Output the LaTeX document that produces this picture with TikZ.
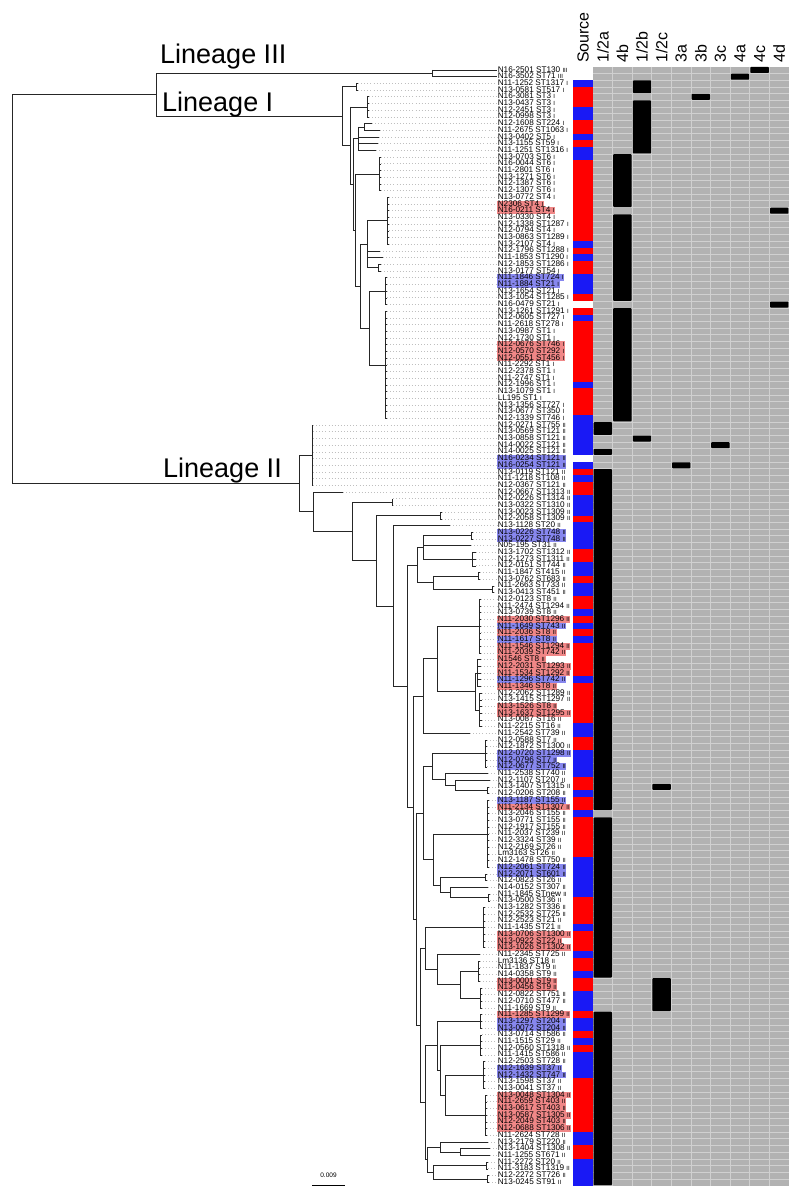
\documentclass[tikz,border=0pt]{standalone}
\usepackage{fontspec}
\setmainfont{Liberation Sans}
\usetikzlibrary{calc}
\definecolor{srcR}{RGB}{255,0,0}
\definecolor{srcB}{RGB}{25,25,245}
\definecolor{hlred}{RGB}{240,135,135}
\definecolor{hlblue}{RGB}{135,135,238}
\definecolor{gridgray}{RGB}{178,178,178}
\definecolor{gridline}{RGB}{208,208,208}
% tree helpers
\newcommand\tclus[5]{% name, node x, first row, last row, tip x
  \foreach \k in {#3,...,#4} {\coordinate (t\k) at (#5,{ry(\k)}); \draw[tree] (#2,{ry(\k)}) -- (t\k);}
  \draw[tree] (#2,{ry(#3)}) -- (#2,{ry(#4)});
  \coordinate (#1) at (#2,{(ry(#3)+ry(#4))/2});}
\newcommand\tleaf[2]{\coordinate (t#1) at (#2,{ry(#1)});}
\newcommand\tjoin[4]{% name, x, child1, child2
  \path let \p1=(#3), \p2=(#4), \n1={(\y1+\y2)/2} in coordinate (#1) at (#2pt,\n1);
  \draw[tree] let \p1=(#3), \p2=(#4) in (#2pt,\y1) -- (#3) (#2pt,\y2) -- (#4) (#2pt,\y1) -- (#2pt,\y2);}
\newcommand\tjoinm[5]{% name, x, first, last, all children
  \path let \p1=(#3), \p2=(#4), \n1={(\y1+\y2)/2} in coordinate (#1) at (#2pt,\n1);
  \draw[tree] let \p1=(#3), \p2=(#4) in (#2pt,\y1) -- (#2pt,\y2);
  \foreach \cc in {#5} {\draw[tree] let \p1=(\cc) in (#2pt,\y1) -- (\cc);}}
\begin{document}
\begin{tikzpicture}[x=1pt,y=-1pt,
  declare function={ry(\k)=70+(\k-1)*6.7;},
  lab/.style={anchor=west,inner xsep=0.6pt,inner ysep=0pt,text height=5.4pt,text depth=1.3pt,font=\fontsize{8.2}{8.2}\selectfont},
  hn/.style={},
  hr/.style={fill=hlred},
  hb/.style={fill=hlblue},
  tree/.style={line width=0.6pt,black!85},
  leafdot/.style={dash pattern=on 0.9pt off 2.2pt,line width=0.7pt,gray!50},
  head/.style={rotate=90,anchor=west,inner sep=0pt,font=\fontsize{16}{16}\selectfont},
  lin/.style={anchor=base west,inner sep=0pt,font=\fontsize{27}{27}\selectfont}]
\useasboundingbox (0,0) rectangle (800,1196);
\fill[white] (0,0) rectangle (800,1196);

% ---------- grid ----------
\fill[gridgray] (593,{ry(1)-3.35}) rectangle (789,{ry(167)+3.35});
\foreach \k in {1,...,166} \draw[gridline,line width=0.35pt] (593,{ry(\k)+3.35}) -- (789,{ry(\k)+3.35});
\foreach \c in {1,...,9} \draw[gridline,line width=0.8pt] ({593+\c*19.6},{ry(1)-3.35}) -- ({593+\c*19.6},{ry(167)+3.35});
\foreach \a/\b/\c in {1/1/8, 2/2/7, 3/4/2, 5/5/5, 6/13/2, 14/21/1, 22/22/9, 23/35/1, 36/36/9, 37/53/1,
  54/55/0, 56/56/2, 57/57/6, 58/58/0, 60/60/4, 61/111/0, 108/108/3, 113/136/0, 137/141/3, 142/167/0}
  \fill[black,rounded corners=0.8pt] ({593+\c*19.6+0.6},{ry(\a)-3.0}) rectangle ({593+(\c+1)*19.6-0.6},{ry(\b)+3.0});

% ---------- source column ----------
\foreach \a/\b/\c in {3/3/B, 4/6/R, 7/8/B, 9/10/R, 11/11/B, 12/12/R, 13/14/B, 15/26/R, 27/27/B, 28/28/R,
  29/29/B, 30/31/R, 32/34/B, 35/35/R, 37/37/R, 38/38/B, 39/47/R, 48/48/B, 49/52/R, 53/58/B, 60/60/B,
  61/61/R, 62/62/B, 63/64/R, 65/67/B, 68/68/R, 69/72/B, 73/74/R, 75/76/B, 77/77/R, 78/79/B, 80/81/R,
  82/82/B, 83/83/R, 84/84/B, 85/85/R, 86/86/B, 87/91/R, 92/92/B, 93/98/R, 99/100/B, 101/102/R,
  103/106/B, 107/108/R, 109/109/B, 110/111/R, 112/112/B, 113/118/R, 119/124/B, 125/128/R, 129/129/B,
  130/132/R, 133/133/B, 134/135/R, 136/136/B, 137/138/R, 139/141/B, 142/142/R, 143/144/B, 145/145/R,
  146/146/B, 147/147/R, 148/151/B, 152/159/R, 160/161/B, 162/163/R, 164/167/B}
  \fill[src\c] (573,{ry(\a)-3.35}) rectangle (593,{ry(\b)+3.35});

% ---------- headers ----------
\foreach \n/\t/\x in {hs/Source/583, h0/1\slash 2a/602.8, h1/4b/622.4, h2/1\slash 2b/642, h3/1\slash 2c/661.6,
  h4/3a/681.2, h5/3b/700.8, h6/3c/720.4, h7/4a/740, h8/4c/759.6, h9/4d/779.2}
  \node[head] (\n) at (\x,63) {\t};

% ---------- labels ----------
\foreach \k/\t/\h in {
1/N16-2501 ST130/n, 2/N16-3502 ST71/n, 3/N11-1252 ST1317/n, 4/N13-0581 ST517/n, 5/N16-3081 ST3/n,
6/N13-0437 ST3/n, 7/N12-2451 ST3/n, 8/N12-0998 ST3/n, 9/N12-1608 ST224/n, 10/N11-2675 ST1063/n,
11/N13-0402 ST5/n, 12/N13-1155 ST59/n, 13/N11-1251 ST1316/n, 14/N13-0703 ST6/n, 15/N16-0044 ST6/n,
16/N11-2801 ST6/n, 17/N13-1271 ST6/n, 18/N12-1387 ST6/n, 19/N12-1307 ST6/n, 20/N13-0772 ST4/n,
21/N2306 ST4/r, 22/N16-0211 ST4/r, 23/N13-0330 ST4/n, 24/N12-1338 ST1287/n, 25/N12-0794 ST4/n,
26/N13-0863 ST1289/n, 27/N13-2107 ST4/n, 28/N12-1796 ST1288/n, 29/N11-1853 ST1290/n, 30/N12-1853 ST1286/n,
31/N13-0177 ST54/n, 32/N11-1846 ST724/b, 33/N11-1884 ST21/b, 34/N13-1654 ST21/n, 35/N13-1054 ST1285/n,
36/N16-0479 ST21/n, 37/N13-1261 ST1291/n, 38/N12-0605 ST727/n, 39/N11-2618 ST278/n, 40/N13-0987 ST1/n,
41/N12-1730 ST1/n, 42/N12-0676 ST746/r, 43/N12-0570 ST292/r, 44/N12-0551 ST456/r, 45/N11-2292 ST1/n,
46/N12-2378 ST1/n, 47/N11-2747 ST1/n, 48/N12-1996 ST1/n, 49/N13-1079 ST1/n, 50/LL195 ST1/n,
51/N13-1356 ST727/n, 52/N13-0677 ST350/n, 53/N12-1339 ST746/n, 54/N12-0271 ST755/n, 55/N13-0569 ST121/n,
56/N13-0858 ST121/n, 57/N14-0022 ST121/n, 58/N14-0025 ST121/n, 59/N16-0234 ST121/b, 60/N16-0254 ST121/b,
61/N13-0119 ST121/n, 62/N11-1218 ST108/n, 63/N12-0367 ST121/n, 64/N12-0667 ST1313/n, 65/N12-0226 ST1314/n,
66/N13-0322 ST1310/n, 67/N13-0023 ST1309/n, 68/N12-2058 ST1309/n, 69/N13-1128 ST20/n, 70/N13-0226 ST748/b,
71/N13-0227 ST748/b, 72/N05-195 ST31/n, 73/N13-1702 ST1312/n, 74/N12-1273 ST1311/n, 75/N12-0151 ST744/n,
76/N11-1847 ST415/n, 77/N13-0762 ST683/n, 78/N11-2663 ST733/n, 79/N13-0413 ST451/n, 80/N12-0123 ST8/n,
81/N11-2474 ST1294/n, 82/N13-0739 ST8/n, 83/N11-2030 ST1296/r, 84/N11-1649 ST743/b, 85/N11-2036 ST8/r,
86/N11-1617 ST8/b, 87/N11-1546 ST1294/r, 88/N11-2039 ST742/r, 89/N1546 ST8/r, 90/N12-2031 ST1293/r,
91/N11-1534 ST1292/r, 92/N11-1296 ST742/b, 93/N11-1346 ST8/r, 94/N12-2062 ST1289/n, 95/N13-1415 ST1297/n,
96/N13-1526 ST8/r, 97/N13-1637 ST1295/r, 98/N13-0087 ST16/n, 99/N11-2215 ST16/n, 100/N11-2542 ST739/n,
101/N12-0588 ST7/n, 102/N12-1872 ST1300/n, 103/N12-0720 ST1298/b, 104/N12-0796 ST7/b, 105/N12-0677 ST752/b,
106/N11-2538 ST740/n, 107/N12-1107 ST207/n, 108/N13-1407 ST1315/n, 109/N12-0206 ST208/n, 110/N13-1187 ST155/b,
111/N11-2134 ST1307/r, 112/N13-2046 ST155/n, 113/N13-0771 ST155/n, 114/N12-1917 ST155/n, 115/N11-2037 ST239/n,
116/N12-3324 ST39/n, 117/N12-2169 ST26/n, 118/Lm3163 ST26/n, 119/N12-1478 ST750/n, 120/N12-2061 ST724/b,
121/N12-2071 ST601/b, 122/N12-0823 ST26/n, 123/N14-0152 ST307/n, 124/N11-1845 STnew/n, 125/N13-0500 ST36/n,
126/N13-1282 ST336/n, 127/N12-2532 ST725/n, 128/N12-2523 ST21/n, 129/N11-1435 ST21/n, 130/N13-0706 ST1300/r,
131/N13-0922 ST22/r, 132/N13-1026 ST1302/r, 133/N11-2345 ST725/n, 134/Lm3136 ST18/n, 135/N11-1837 ST9/n,
136/N14-0358 ST9/n, 137/N13-0001 ST9/r, 138/N13-0456 ST9/r, 139/N12-0822 ST751/n, 140/N12-0710 ST477/n,
141/N11-1669 ST9/n, 142/N11-1285 ST1299/r, 143/N13-1297 ST204/b, 144/N13-0072 ST204/b, 145/N13-0714 ST586/n,
146/N11-1515 ST29/n, 147/N12-0560 ST1318/n, 148/N11-1415 ST586/n, 149/N12-2503 ST728/n, 150/N12-1639 ST37/b,
151/N12-1432 ST747/b, 152/N13-1598 ST37/n, 153/N13-0041 ST37/n, 154/N13-0048 ST1304/r, 155/N11-2659 ST403/r,
156/N13-0617 ST403/r, 157/N13-0587 ST1305/r, 158/N12-2049 ST403/r, 159/N12-0688 ST1306/r, 160/N11-2624 ST728/n,
161/N13-2179 ST220/n, 162/N13-1404 ST1308/n, 163/N11-1255 ST671/n, 164/N11-2272 ST20/n, 165/N11-3183 ST1319/n,
166/N12-2272 ST726/n, 167/N13-0245 ST91/n}
{\ifnum\k<3 \def\ln{III}\else\ifnum\k<54 \def\ln{I}\else\def\ln{II}\fi\fi
 \node[lab,h\h] (l\k) at (497,{ry(\k)}) {\t\ {\fontsize{6}{6}\selectfont\ln}};}

% ---------- tree: lineages III and I ----------
\tleaf{1}{493} \tleaf{2}{493}
\tjoin{LIII}{432}{t1}{t2}
\tclus{g1}{356}{3}{4}{358}
\tclus{g2}{367}{5}{8}{369}
\tleaf{9}{372} \tleaf{10}{380}
\tjoin{gx}{364}{t9}{t10}
\tleaf{11}{379} \tleaf{12}{378} \tleaf{13}{376}
\tjoinm{g3}{358}{gx}{t13}{gx,t11,t12,t13}
\tclus{g4}{379}{14}{19}{381}
\tclus{g5a}{387}{20}{27}{389}
\tleaf{28}{380} \tleaf{29}{383}
\tclus{g5b}{378}{30}{31}{381}
\tjoinm{g5}{367}{g5a}{g5b}{g5a,t28,t29,g5b}
\tclus{g6}{385}{32}{36}{387}
\tclus{g7}{385}{37}{53}{387}
\tjoin{I5}{369}{g6}{g7}
\tjoin{I4}{360}{g5}{I5}
\tjoin{I3}{355}{g4}{I4}
\tjoin{I2}{353}{g3}{I3}
\tjoin{I1}{350}{g2}{I2}
\tjoin{LI}{342}{g1}{I1}
\tjoin{A}{156}{LIII}{LI}

% ---------- tree: lineage II ----------
\tclus{T}{312}{54}{63}{313}
\tleaf{64}{343}
\tclus{C65}{392}{65}{66}{393}
\tclus{Cd}{440}{67}{68}{442}
\tleaf{69}{450}
\tclus{C2}{471}{70}{71}{473}
\tleaf{72}{471}
\tclus{C4}{472}{73}{75}{476}
\tjoinm{S1}{423}{C2}{C4}{C2,t72,C4}
\tclus{C5}{478}{76}{77}{480}
\tclus{C6}{492}{78}{79}{494}
\tjoin{S2}{433}{C5}{C6}
\tjoin{S12}{417}{S1}{S2}
\tclus{C7a}{479}{80}{88}{481}
\tclus{C7c}{477}{89}{93}{481}
\tclus{C7d}{479}{94}{99}{482}
\tjoin{C7b}{475}{C7c}{C7d}
\tjoin{C7}{437}{C7a}{C7b}
\tleaf{100}{470}
\tjoin{S3}{423}{C7}{t100}
\tclus{C9}{485}{101}{105}{487}
\tleaf{106}{488}
\tleaf{107}{490}
\tclus{C12}{487}{108}{109}{489}
\tjoin{S4a3}{455}{t107}{C12}
\tjoin{S4a2}{445}{t106}{S4a3}
\tjoin{S4a}{432}{C9}{S4a2}
\tclus{C13}{487}{110}{120}{489}
\tclus{C14}{485}{121}{122}{487}
\tleaf{123}{488}
\tclus{C16}{488}{124}{125}{490}
\tjoin{S4d}{450}{t123}{C16}
\tjoin{S4c}{440}{C14}{S4d}
\tjoin{S4b}{433}{C13}{S4c}
\tjoin{S4}{423}{S4a}{S4b}
\tclus{C17}{483}{126}{132}{485}
\tleaf{133}{480}
\tclus{C19a}{478}{134}{137}{480}
\tclus{C19b}{480}{138}{141}{482}
\tjoin{S5c}{460}{C19a}{C19b}
\tjoin{S5b}{437}{t133}{S5c}
\tjoin{S5}{425}{C17}{S5b}
\tclus{C21}{480}{142}{144}{482}
\tclus{C22}{480}{145}{148}{482}
\tclus{C23}{483}{149}{153}{485}
\tclus{C24}{485}{154}{160}{487}
\tjoin{S6c}{445}{C23}{C24}
\tjoin{S6b}{440}{C22}{S6c}
\tjoin{S6}{437}{C21}{S6b}
\tleaf{161}{488} \tleaf{162}{490} \tleaf{163}{490}
\tjoin{S7b}{460}{t162}{t163}
\tjoin{S7a}{440}{t161}{S7b}
\tclus{C26}{486}{164}{165}{488}
\tclus{C27}{487}{166}{167}{489}
\tjoin{S7c}{433}{C26}{C27}
\tjoin{S7}{427}{S7a}{S7c}
\tjoin{B9}{425}{S6}{S7}
\tjoin{B8}{420}{S5}{B9}
\tjoin{B7}{416}{S4}{B8}
\tjoin{B6}{413}{S3}{B7}
\tjoin{B5}{407}{S12}{B6}
\tjoin{B4}{393}{t69}{B5}
\tjoin{B3}{376}{Cd}{B4}
\tjoin{B2}{352}{C65}{B3}
\tjoin{B1}{313}{t64}{B2}
\tjoin{N0}{299}{T}{B1}

% ---------- root ----------
\draw[tree] let \p1=(A), \p2=(N0) in (12pt,\y1) -- (A) (12pt,\y2) -- (N0) (12pt,\y1) -- (12pt,\y2);

% ---------- leaders ----------
\draw[tree] (t1) -- (l1.west) (t2) -- (l2.west);
\foreach \k in {3,...,167} \draw[leafdot] (t\k) -- (l\k.west);

% ---------- lineage labels ----------
\node[lin] (lin3) at (160,64) {Lineage III};
\node[lin] (lin1) at (162,112) {Lineage I};
\node[lin] (lin2) at (163,477) {Lineage II};

% ---------- scale bar ----------
\coordinate (sb1) at (312,1185);
\coordinate (sb2) at (345,1185);
\draw[line width=0.6pt] (sb1) -- (sb2);
\node[font=\fontsize{6.5}{6.5}\selectfont,anchor=south] (sbl) at (328.5,1181) {0.009};
\end{tikzpicture}
\end{document}
